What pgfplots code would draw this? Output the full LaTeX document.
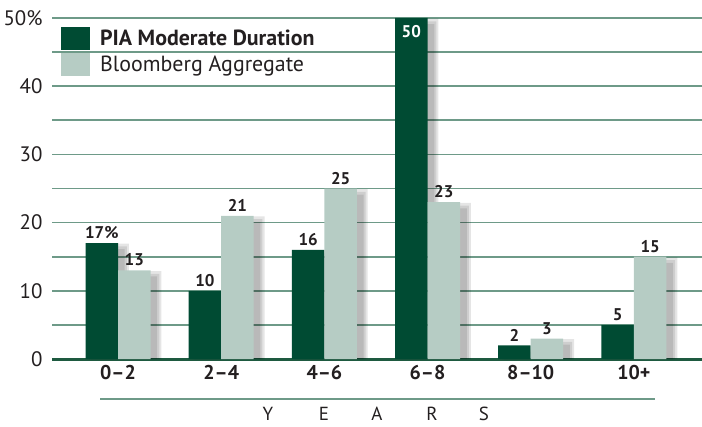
\documentclass[border=0pt]{standalone}
\usepackage{fontspec}
\setmainfont{PT Sans}
\usepackage{pgfplots}
\usepackage{pgfplotstable}
\pgfplotsset{compat=1.18}
\definecolor{darkg}{HTML}{004B33}
\definecolor{lightg}{HTML}{B6CCC4}
\definecolor{gridg}{HTML}{6E9A88}
\definecolor{axisg}{HTML}{1E5A40}
\definecolor{txt}{HTML}{231F20}
\pgfplotstableread{
x pia bb
0 17 13
1 10 21
2 16 25
3 50 23
4 2  3
5 5  15
}\data
\begin{document}
\begin{tikzpicture}[x=1bp,y=1bp]
\useasboundingbox (0,0) rectangle (702,426);
\begin{axis}[
  at={(52bp,67bp)}, anchor=south west,
  scale only axis, width=650bp, height=341bp,
  xmin=-0.64, xmax=5.66, ymin=0, ymax=50,
  clip=false,
  ybar=0pt, bar width=0.315,
  axis line style={draw=none},
  ytick={0,10,...,50}, yticklabels={0,10,20,30,40,50\%},
  minor ytick={5,15,...,45},
  ymajorgrids, yminorgrids,
  grid style={gridg, line width=1.6bp},
  minor grid style={gridg, line width=1.6bp},
  extra y ticks={0}, extra y tick labels={},
  extra y tick style={grid style={axisg, line width=3bp}},
  major tick length=0pt, minor tick length=0pt,
  xtick={0,...,5},
  xticklabels={0–2,2–4,4–6,6–8,8–10,10+},
  xticklabel style={font=\bfseries\fontsize{20}{22}\selectfont, text=txt, yshift=-3bp},
  yticklabel style={font=\fontsize{21}{23}\selectfont, text=txt, xshift=-6bp},
  /pgf/number format/assume math mode=true,
  legend style={at={(0.0138,0.975)}, anchor=north west, draw=none, fill=none,
    font=\fontsize{22}{24}\selectfont, text=txt, inner sep=0pt, row sep=3bp,
    legend cell align=left},
  lab/.style={point meta=explicit symbolic, nodes near coords,
    nodes near coords style={font=\bfseries\fontsize{17}{18}\selectfont, text=txt, anchor=south, inner sep=4bp}},
  shd/.style={draw=none, fill=black, fill opacity=0.10, forget plot},
]
% soft shadows (drawn first, behind bars)
\addplot[shd, bar shift=-0.1575+0.06, bar width=0.315+0.09] table[x=x, y expr=\thisrow{pia}-0.1] {\data};
\addplot[shd, bar shift=-0.1575+0.06, bar width=0.315+0.05] table[x=x, y expr=\thisrow{pia}-0.5] {\data};
\addplot[shd, bar shift=-0.1575+0.06, bar width=0.315+0.01] table[x=x, y expr=\thisrow{pia}-0.9] {\data};
\addplot[shd, bar shift=0.1575+0.06, bar width=0.315+0.09] table[x=x, y expr=\thisrow{bb}-0.1] {\data};
\addplot[shd, bar shift=0.1575+0.06, bar width=0.315+0.05] table[x=x, y expr=\thisrow{bb}-0.5] {\data};
\addplot[shd, bar shift=0.1575+0.06, bar width=0.315+0.01] table[x=x, y expr=\thisrow{bb}-0.9] {\data};
% bars
\addplot[fill=darkg, draw=none, bar shift=-0.1575, lab,
  legend image code/.code={\fill[darkg] (0bp,-11.5bp) rectangle (29bp,11.5bp);}]
  coordinates {(0,17) [17\%] (1,10) [10] (2,16) [16] (3,50) [\mbox{}] (4,2) [2] (5,5) [5]};
\addlegendentry{\hspace{8bp}\textbf{PIA Moderate Duration}}
\addplot[fill=lightg, draw=none, bar shift=0.1575, lab,
  legend image code/.code={\fill[lightg] (0bp,-11.5bp) rectangle (29bp,11.5bp);}]
  coordinates {(0,13) [13] (1,21) [21] (2,25) [25] (3,23) [23] (4,3) [3] (5,15) [15]};
\addlegendentry{\hspace{8bp}Bloomberg Aggregate}
\node[font=\bfseries\fontsize{17}{18}\selectfont, text=white] at (axis cs:2.8425,48.0) {50};
\end{axis}
\draw[gridg, line width=2.5bp] (100,27) -- (655,27);
\foreach \l/\xx in {Y/268,E/324,A/377,R/432,S/484}
  \node[font=\fontsize{19}{21}\selectfont, text=txt, inner sep=0pt] at (\xx,12.5) {\l};
\end{tikzpicture}
\end{document}
